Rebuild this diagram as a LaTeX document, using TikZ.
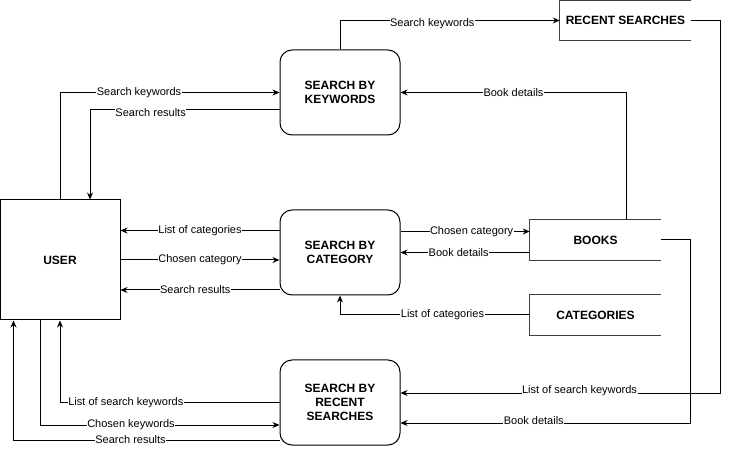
\documentclass[tikz,border=0pt]{standalone}
\usepackage{fontspec}
\setmainfont{Liberation Sans}
\usetikzlibrary{arrows.meta, positioning, calc}

\tikzset{
  process/.style={draw, line width=1pt, rounded corners=12pt, minimum width=120pt, minimum height=85pt,
    inner sep=0pt, align=center, font=\fontsize{12}{14}\selectfont\bfseries},
  entity/.style={draw, line width=1pt, minimum width=120pt, minimum height=120pt, inner sep=0pt,
    font=\fontsize{12}{14}\selectfont\bfseries},
  store/.style={minimum width=131pt, minimum height=40pt, inner sep=0pt,
    font=\fontsize{12}{14}\selectfont\bfseries},
  flow/.style={line width=1pt, -{Stealth[length=7pt,width=6pt]}},
  lbl/.style={fill=white, inner sep=0.5pt, font=\fontsize{11}{13}\selectfont}
}

\begin{document}
\begin{tikzpicture}[x=1pt, y=-1pt]
            \useasboundingbox (0,0) rectangle (729,449);

            % External entity
            \node[entity] (user) at (60,260) {USER};

            % Processes
            \node[process] (kw) at (340,92.5) {SEARCH BY\\KEYWORDS};
            \node[process] (cat) at (340,252.5) {SEARCH BY\\CATEGORY};
            \node[process] (rec) at (340,402.5) {SEARCH BY\\RECENT\\SEARCHES};

            % Data stores
            \node[store] (rs) at (625.5,20.5) {RECENT SEARCHES};
            \node[store] (books) at (595.5,240) {BOOKS};
            \node[store] (cats) at (595.5,315) {CATEGORIES};
            \foreach \s in {rs, books, cats}
              \draw[line width=0.8pt, black!75] (\s.north east) -- (\s.north west) -- (\s.south west) -- (\s.south east);

            % Search by keywords
            \draw[flow] (user.north) |- node[lbl, pos=0.68] {Search keywords} (kw.west);
            \coordinate (kwres) at ([yshift=-17.5pt]kw.west);
            \draw[flow] (kwres) -| node[lbl, pos=0.34, yshift=-3pt] {Search results} ([xshift=30pt]user.north);
            \draw[flow] (kw.north) |- node[lbl, pos=0.71, yshift=-3pt] {Search keywords} (rs.west);
            \draw[flow] ([xshift=31pt]books.north) |- node[lbl, pos=0.75] {Book details} (kw.east);

            % Search by category
            \coordinate (catlist) at ([yshift=22pt]cat.west);
            \coordinate (catres) at ([yshift=-37.5pt]cat.west);
            \draw[flow] (catlist) -- node[lbl, pos=0.5] {List of categories} (catlist -| user.east);
            \draw[flow] (user.east) -- node[lbl, pos=0.5] {Chosen category} (user.east -| cat.west);
            \draw[flow] (catres) -- node[lbl, pos=0.53] {Search results} (catres -| user.east);
            \coordinate (catout) at ([yshift=21pt]cat.east);
            \draw[flow] (catout) -- node[lbl, pos=0.55] {Chosen category} (catout -| books.west);
            \draw[flow] (books.west |- cat.east) -- node[lbl, pos=0.55] {Book details} (cat.east);
            \draw[flow] (cats.west) -| node[lbl, pos=0.23] {List of categories} (cat.south);

            % Search by recent searches
            \draw[flow] (rec.west) -| node[lbl, pos=0.35] {List of search keywords} (user.south);
            \coordinate (recin) at ([yshift=-22.5pt]rec.west);
            \draw[flow] ([xshift=-20pt]user.south) |- node[lbl, pos=0.69] {Chosen keywords} (recin);
            \coordinate (recres) at ([yshift=-37.5pt]rec.west);
            \draw[flow] (recres) -| node[lbl, pos=0.28] {Search results} ([xshift=-46.5pt]user.south);
            \coordinate (rsturn) at ([xshift=29pt]rs.east);
            \draw[flow] (rs.east) -- (rsturn) |- node[lbl, pos=0.72, yshift=2pt] {List of search keywords} ([yshift=9.5pt]rec.east);
            \coordinate (bkturn) at ([xshift=29pt]books.east);
            \draw[flow] (books.east) -- (bkturn) |- node[lbl, pos=0.77, yshift=2pt] {Book details} ([yshift=-20.5pt]rec.east);
\end{tikzpicture}
\end{document}
